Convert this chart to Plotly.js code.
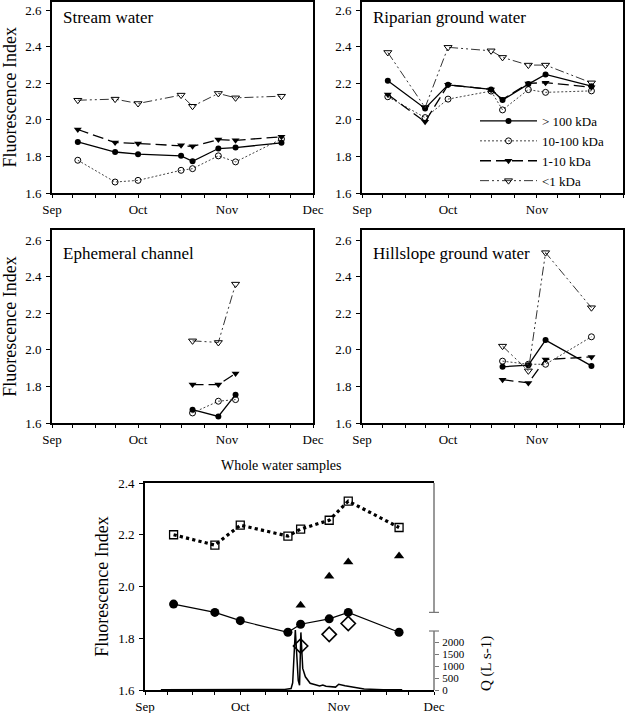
<!DOCTYPE html>
<html><head><meta charset="utf-8">
<script src="https://cdn.plot.ly/plotly-3.0.1.min.js"></script>
<style>html,body{margin:0;padding:0;background:#fff}#chart{width:630px;height:713px}</style>
</head><body><div id="chart"></div>
<script>
// ---------- DATA ----------
const monthTicks = ['2003-09-01','2003-10-01','2003-11-01','2003-12-01'];
const monthLabels = ['Sep','Oct','Nov','Dec'];
const minorTicks = ['2003-09-08','2003-09-16','2003-09-23','2003-10-09','2003-10-16','2003-10-24','2003-11-08','2003-11-16','2003-11-23'];

const sampleDates = ['2003-09-10','2003-09-23','2003-10-01','2003-10-16','2003-10-20','2003-10-29','2003-11-04','2003-11-20'];
const stormDates  = ['2003-10-20','2003-10-29','2003-11-04'];
const hillDates   = ['2003-10-20','2003-10-29','2003-11-04','2003-11-20'];

const seriesNames = ['> 100 kDa','10-100 kDa','1-10 kDa','<1 kDa'];

// Stream water
const streamGt100  = [1.879,1.824,1.812,1.803,1.773,1.843,1.848,1.874];
const stream10_100 = [1.779,1.660,1.669,1.724,1.733,1.803,1.770,1.895];
const stream1_10   = [1.947,1.876,1.870,1.861,1.855,1.892,1.888,1.907];
const streamLt1    = [2.107,2.113,2.089,2.135,2.074,2.144,2.120,2.129];
// Riparian ground water
const ripGt100  = [2.213,2.062,2.191,2.166,2.108,2.195,2.248,2.184];
const rip10_100 = [2.126,2.012,2.113,2.157,2.054,2.165,2.150,2.158];
const rip1_10   = [2.138,1.989,2.191,2.166,2.112,2.199,2.203,2.178];
const ripLt1    = [2.368,2.067,2.396,2.377,2.341,2.299,2.299,2.202];
// Ephemeral channel
const ephGt100  = [1.673,1.636,1.755];
const eph10_100 = [1.655,1.719,1.728];
const eph1_10   = [1.810,1.810,1.870];
const ephLt1    = [2.049,2.040,2.359];
// Hillslope ground water
const hillGt100  = [1.907,1.916,2.053,1.912];
const hill10_100 = [1.938,1.921,1.921,2.071];
const hill1_10   = [1.837,1.819,1.947,1.961];
const hillLt1    = [2.020,1.885,2.531,2.230];

// Whole water samples
const wholeStream    = [1.932,1.900,1.868,1.823,1.854,1.875,1.900,1.823];
const wholeRiparian  = [2.200,2.160,2.237,2.195,2.222,2.256,2.330,2.228];
const wholeHillslope = [1.928,2.040,2.095,2.118];
const wholeEphemeral = [1.770,1.815,1.857];

// Discharge Q (L s-1)
const qDates = ['2003-09-06','2003-09-15','2003-09-25','2003-10-05','2003-10-15','2003-10-17 00:00','2003-10-17 12:00',
  '2003-10-18 08:00','2003-10-18 18:00','2003-10-19 06:00','2003-10-19 16:00','2003-10-20 02:00','2003-10-20 16:00',
  '2003-10-21 12:00','2003-10-23','2003-10-26','2003-10-27','2003-10-28','2003-10-31','2003-11-01','2003-11-03',
  '2003-11-06','2003-11-09','2003-11-15','2003-11-21'];
const qValues = [10,10,15,20,25,60,300,2500,1400,400,200,2400,900,550,280,170,210,160,120,240,180,100,40,15,10];

const qTicks = [0,500,1000,1500,2000];
const fiTicksTop = [1.6,1.8,2.0,2.2,2.4,2.6];
const fiTicksBottom = [1.6,1.8,2.0,2.2,2.4];

// ---------- STYLE / LAYOUT ----------
const W = 630, H = 713;
const FONT = 'Liberation Serif';
const fx = p => p / W;
const fy = p => 1 - p / H;

const seriesStyle = [
  {line:{color:'#000',width:1.3,dash:'solid'}, marker:{symbol:'circle',size:6,color:'#000'}},
  {line:{color:'#444',width:1,dash:'2px,2px'}, marker:{symbol:'circle-open',size:6,color:'#000',line:{width:1,color:'#000'}}},
  {line:{color:'#000',width:1.3,dash:'11px,5px'}, marker:{symbol:'triangle-down',size:7,color:'#000'}},
  {line:{color:'#333',width:1,dash:'9px,3px,2px,3px,2px,3px'}, marker:{symbol:'triangle-down-open',size:7,color:'#000',line:{width:1,color:'#000'}}}
];

const panels = [
  {x: sampleDates, ys:[streamGt100,stream10_100,stream1_10,streamLt1], ax:'', legend:false},
  {x: sampleDates, ys:[ripGt100,rip10_100,rip1_10,ripLt1], ax:'2', legend:true},
  {x: stormDates,  ys:[ephGt100,eph10_100,eph1_10,ephLt1], ax:'3', legend:false},
  {x: hillDates,   ys:[hillGt100,hill10_100,hill1_10,hillLt1], ax:'4', legend:false}
];

const traces = [];
panels.forEach(p => {
  p.ys.forEach((y, i) => {
    traces.push({
      type:'scatter', mode:'lines+markers', x:p.x, y:y, name:seriesNames[i],
      xaxis:'x'+p.ax, yaxis:'y'+p.ax, showlegend:p.legend,
      line:seriesStyle[i].line, marker:seriesStyle[i].marker, cliponaxis:false
    });
  });
});

traces.push({type:'scatter', mode:'lines', x:qDates, y:qValues, xaxis:'x5', yaxis:'y6',
  showlegend:false, line:{color:'#000',width:1.5}});
traces.push({type:'scatter', mode:'lines+markers', x:sampleDates, y:wholeRiparian, xaxis:'x5', yaxis:'y5',
  showlegend:false, line:{color:'#000',width:3.2,dash:'dot'},
  marker:{symbol:'square-open',size:8,color:'#000',line:{width:1.3,color:'#000'}}});
traces.push({type:'scatter', mode:'lines+markers', x:sampleDates, y:wholeStream, xaxis:'x5', yaxis:'y5',
  showlegend:false, line:{color:'#000',width:1.2},
  marker:{symbol:'circle',size:9,color:'#000'}});
traces.push({type:'scatter', mode:'markers', x:hillDates, y:wholeHillslope, xaxis:'x5', yaxis:'y5',
  showlegend:false, marker:{symbol:'triangle-up',size:9,color:'#000'}});
traces.push({type:'scatter', mode:'markers', x:stormDates, y:wholeEphemeral, xaxis:'x5', yaxis:'y5',
  showlegend:false, marker:{symbol:'diamond-open',size:11,color:'#000',line:{width:1.6,color:'#000'}}});

function xAxis(dom, anchor){
  return {type:'date', domain:dom, anchor:anchor, range:[monthTicks[0], monthTicks[3]],
    tickmode:'array', tickvals:monthTicks, ticktext:monthLabels,
    ticks:'outside', ticklen:3, tickwidth:1, tickcolor:'#000',
    showline:true, linewidth:2, linecolor:'#000', mirror:true,
    showgrid:false, zeroline:false, ticklabelstandoff:0,
    tickfont:{family:FONT,size:13,color:'#000'},
    minor:{tickmode:'array', tickvals:minorTicks, ticks:'outside', ticklen:3, tickwidth:1, tickcolor:'#000', showgrid:false}};
}
function yAxis(dom, anchor, range, ticks, title){
  const a = {domain:dom, anchor:anchor, range:range, tickmode:'array', tickvals:ticks, tickformat:'.1f',
    ticks:'outside', ticklen:4, tickwidth:1, tickcolor:'#000',
    showline:true, linewidth:2, linecolor:'#000', mirror:true,
    showgrid:false, zeroline:false, ticklabelstandoff:2,
    tickfont:{family:FONT,size:13,color:'#000'}};
  if (title) a.title = {text:title, font:{family:FONT,size:18,color:'#000'}, standoff:5};
  return a;
}

const xL = [fx(52), fx(313)], xR = [fx(362), fx(623)];
const yT = [fy(193), fy(1.5)], yM = [fy(423), fy(230)];
const rangeT = [1.6, 2.6 + 8.5/183], rangeM = [1.6, 2.6 + 10/183];
const annFont = s => ({family:FONT, size:s, color:'#000'});

const layout = {
  width:W, height:H, margin:{l:0,r:0,t:0,b:0}, paper_bgcolor:'#fff', plot_bgcolor:'rgba(0,0,0,0)',
  font:{family:FONT,color:'#000'},
  xaxis: xAxis(xL,'y'),  yaxis: yAxis(yT,'x', rangeT, fiTicksTop, 'Fluorescence Index'),
  xaxis2: xAxis(xR,'y2'), yaxis2: yAxis(yT,'x2', rangeT, fiTicksTop, null),
  xaxis3: xAxis(xL,'y3'), yaxis3: yAxis(yM,'x3', rangeM, fiTicksTop, 'Fluorescence Index'),
  xaxis4: xAxis(xR,'y4'), yaxis4: yAxis(yM,'x4', rangeM, fiTicksTop, null),
  xaxis5: xAxis([fx(145), fx(434)],'y5'),
  yaxis5: Object.assign(yAxis([fy(690), fy(483)],'x5',[1.6,2.4], fiTicksBottom,'Fluorescence Index'), {mirror:false}),
  yaxis6: {overlaying:'y5', side:'right', anchor:'x5', range:[0, 2000*207/48], tickmode:'array', tickvals:qTicks,
    ticks:'outside', ticklen:4, tickwidth:1, tickcolor:'#777', showline:false, showgrid:false, zeroline:false,
    ticklabelstandoff:1, tickfont:{family:FONT,size:11,color:'#000'}},
  showlegend:true,
  legend:{x:fx(475), y:fy(106), xanchor:'left', yanchor:'top', bgcolor:'rgba(0,0,0,0)',
    font:{family:FONT,size:13,color:'#000'}, tracegroupgap:0, itemwidth:57, traceorder:'normal'},
  annotations:[
    {text:'Stream water', xref:'paper', yref:'paper', x:fx(61), y:fy(17), xanchor:'left', yanchor:'middle', showarrow:false, font:annFont(17)},
    {text:'Riparian ground water', xref:'paper', yref:'paper', x:fx(371), y:fy(17), xanchor:'left', yanchor:'middle', showarrow:false, font:annFont(17)},
    {text:'Ephemeral channel', xref:'paper', yref:'paper', x:fx(61), y:fy(253), xanchor:'left', yanchor:'middle', showarrow:false, font:annFont(17)},
    {text:'Hillslope ground water', xref:'paper', yref:'paper', x:fx(371), y:fy(253), xanchor:'left', yanchor:'middle', showarrow:false, font:annFont(17)},
    {text:'Whole water samples', xref:'paper', yref:'paper', x:fx(281), y:fy(465), xanchor:'center', yanchor:'middle', showarrow:false, font:annFont(14)},
    {text:'Q (L s-1)', xref:'paper', yref:'paper', x:fx(486), y:fy(664), xanchor:'center', yanchor:'middle', textangle:-90, showarrow:false, font:annFont(15)}
  ],
  shapes:[
    {type:'line', xref:'x5 domain', yref:'y5', x0:1, x1:1, y0:1.9, y1:2.4, line:{color:'#777',width:1.5}},
    {type:'line', xref:'x5 domain', yref:'y6', x0:1, x1:1, y0:0, y1:2458, line:{color:'#777',width:1.5}},
    {type:'line', xref:'x5 domain', yref:'y5', x0:1-5/289, x1:1+5/289, y0:1.9, y1:1.9, line:{color:'#777',width:1.2}},
    {type:'line', xref:'x5 domain', yref:'y6', x0:1-5/289, x1:1+5/289, y0:2458, y1:2458, line:{color:'#777',width:1.2}}
  ]
};

Plotly.newPlot('chart', traces, layout, {staticPlot:true, displayModeBar:false});
</script></body></html>
